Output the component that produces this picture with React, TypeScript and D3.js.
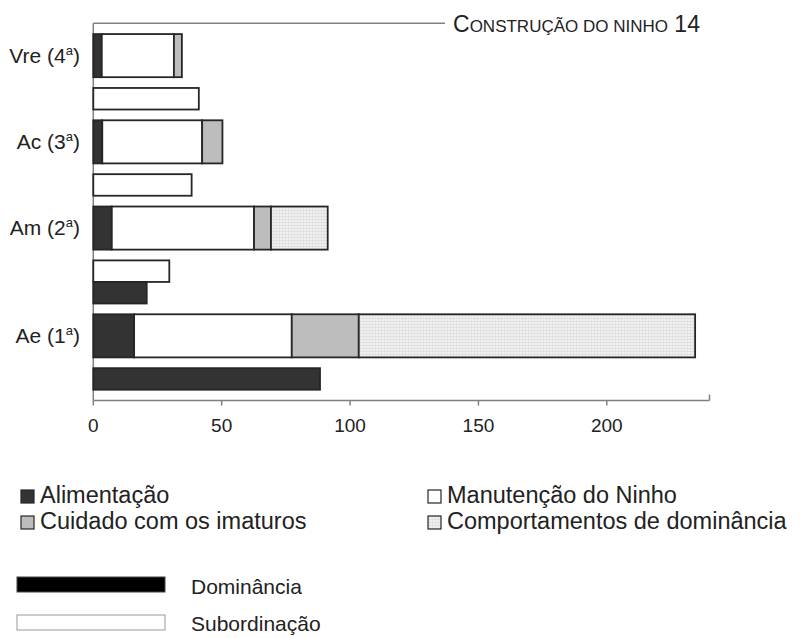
import React from 'react';
import * as d3 from 'd3';

// groups, top to bottom
const groupNames = ['Vre', 'Ac', 'Am', 'Ae'];
const groupOrdinals = ['4', '3', '2', '1'];

// stacked behaviour counts
const alimentacao = [3.3, 3.5, 7.2, 15.9];
const manutencao = [28.1, 38.9, 55.4, 61.4];
const cuidado = [3.1, 7.9, 6.6, 26.1];
const comportamentos = [0, 0, 22.1, 131.0];

// single bars under each group
const subordinacao: (number | null)[] = [41.1, 38.3, 29.6, null];
const dominancia: (number | null)[] = [null, null, 20.8, 88.3];

const xTicks = [0, 50, 100, 150, 200];
const xMax = 240;

const seriesNames = ['Alimentação', 'Manutenção do Ninho', 'Cuidado com os imaturos', 'Comportamentos de dominância'];

const FONT = '"Liberation Sans", Arial, sans-serif';
const STROKE = '#262626';
const AXIS = '#808080';
const fills = ['#333333', '#ffffff', '#bdbdbd', 'url(#dots)'];

type Row = { kind: 'stack' | 'sub' | 'dom'; g: number; y0: number; y1: number };

function layoutRows(): { rows: Row[]; total: number } {
  const rows: Row[] = [];
  let u = 1;
  groupNames.forEach((_, g) => {
    rows.push({ kind: 'stack', g, y0: u, y1: u + 4 });
    u += 5;
    let extra = false;
    if (subordinacao[g] != null) {
      rows.push({ kind: 'sub', g, y0: u, y1: u + 2 });
      u += 2;
      extra = true;
    }
    if (dominancia[g] != null) {
      rows.push({ kind: 'dom', g, y0: u, y1: u + 2 });
      u += 2;
      extra = true;
    }
    if (extra) u += 1;
  });
  return { rows, total: u };
}

export default function App() {
  const width = 803;
  const height = 638;
  const left = 93.3;
  const top = 23.3;
  const bottom = 400.5;

  const x = d3.scaleLinear().domain([0, xMax]).range([left, left + 2.5675 * xMax]);
  const { rows, total } = layoutRows();
  const y = d3.scaleLinear().domain([0, total]).range([top, bottom]);

  const stackData = groupNames.map((_, i) => ({
    a: alimentacao[i],
    m: manutencao[i],
    c: cuidado[i],
    d: comportamentos[i],
  }));
  const stacked = d3.stack<{ a: number; m: number; c: number; d: number }>().keys(['a', 'm', 'c', 'd'])(stackData);

  const xEnd = x(xMax);

  return (
    <svg width={width} height={height} style={{ position: 'absolute', left: 0, top: 0, background: '#fff' }} fontFamily={FONT}>
      <defs>
        <pattern id="dots" width="3" height="3" patternUnits="userSpaceOnUse">
          <rect width="3" height="3" fill="#f1f1f1" />
          <rect width="3" height="0.6" fill="#d6d6d6" />
          <rect width="0.6" height="3" fill="#dcdcdc" />
        </pattern>
      </defs>

      {/* frame lines */}
      <line x1={left} x2={445} y1={top} y2={top} stroke={AXIS} strokeWidth={1.5} />
      <line x1={left} x2={left} y1={top} y2={bottom} stroke={AXIS} strokeWidth={1.5} />
      <line x1={left} x2={xEnd} y1={bottom} y2={bottom} stroke={AXIS} strokeWidth={1.5} />
      <line x1={xEnd} x2={xEnd} y1={bottom - 6} y2={bottom} stroke={AXIS} strokeWidth={1.5} />
      {xTicks.map((t) => (
        <g key={t}>
          <line x1={x(t)} x2={x(t)} y1={bottom} y2={bottom + 5} stroke={AXIS} strokeWidth={1.5} />
          <text x={x(t)} y={432} textAnchor="middle" fontSize={19} fill="#222">
            {t}
          </text>
        </g>
      ))}

      {/* title */}
      <text x={453} y={32} fontSize={23} fill="#222">
        C<tspan fontSize={17}>ONSTRUÇÃO DO NINHO</tspan> 14
      </text>

      {/* bars */}
      {rows.map((r, i) => {
        const y0 = y(r.y0);
        const h = y(r.y1) - y(r.y0);
        if (r.kind === 'stack') {
          return (
            <g key={i}>
              {stacked.map((s, k) => {
                const seg = s[r.g];
                if (seg[1] - seg[0] <= 0) return null;
                return (
                  <rect
                    key={k}
                    x={x(seg[0])}
                    y={y0}
                    width={x(seg[1]) - x(seg[0])}
                    height={h}
                    fill={fills[k]}
                    stroke={STROKE}
                    strokeWidth={1.8}
                  />
                );
              })}
              <text x={80} y={y0 + h / 2 + 7} textAnchor="end" fontSize={21} fill="#222">
                {groupNames[r.g]} (
                {groupOrdinals[r.g]}
                <tspan fontSize={13} dy={-8}>a</tspan>
                <tspan dy={8}>)</tspan>
              </text>
            </g>
          );
        }
        const v = (r.kind === 'sub' ? subordinacao[r.g] : dominancia[r.g]) as number;
        return (
          <rect
            key={i}
            x={x(0)}
            y={y0}
            width={x(v) - x(0)}
            height={h}
            fill={r.kind === 'sub' ? '#ffffff' : '#333333'}
            stroke={STROKE}
            strokeWidth={1.8}
          />
        );
      })}

      {/* legend */}
      {seriesNames.map((name, k) => {
        const lx = k % 2 === 0 ? 21 : 428;
        const ly = k < 2 ? 503 : 529;
        return (
          <g key={name}>
            <rect x={lx} y={ly - 13} width={13} height={13} fill={fills[k]} stroke={STROKE} strokeWidth={1.2} />
            <text x={lx + 19} y={ly} fontSize={23.5} fill="#222">
              {name}
            </text>
          </g>
        );
      })}
      <rect x={17} y={577} width={148} height={15} fill="#000" stroke="#444" strokeWidth={1} />
      <text x={191} y={594} fontSize={21} fill="#222">Dominância</text>
      <rect x={17} y={615} width={148} height={15} fill="#fff" stroke="#999" strokeWidth={1} />
      <text x={191} y={631} fontSize={21} fill="#222">Subordinação</text>
    </svg>
  );
}
